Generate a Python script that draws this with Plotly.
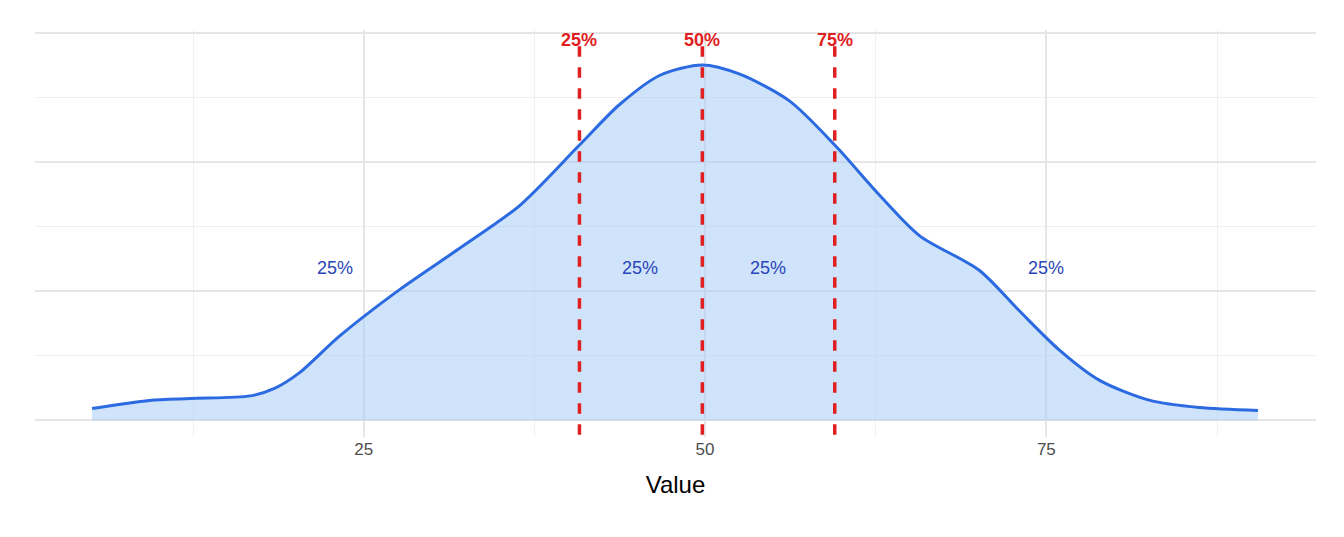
import plotly.graph_objects as go

xs = [5.1, 9.3, 12.3, 16.7, 18.5, 20.3, 23.2, 27.6, 32.0, 36.4, 40.8, 43.7, 46.7, 49.8,
      52.5, 56.2, 59.5, 62.8, 65.7, 70.1, 73.0, 76.0, 78.9, 82.6, 86.2, 90.5]
dens = [0.00093, 0.00155, 0.0017, 0.0019, 0.0025, 0.0037, 0.0065, 0.0101, 0.0133, 0.0166,
        0.0213, 0.0244, 0.0267, 0.0275, 0.0268, 0.0247, 0.0213, 0.0174, 0.0143, 0.0116,
        0.0085, 0.0054, 0.0031, 0.00155, 0.0010, 0.00077]
quantiles = [40.8, 49.8, 59.5]
q_labels = ["25%", "50%", "75%"]
seg_x = [22.9, 45.2, 54.6, 75.0]
seg_labels = ["25%", "25%", "25%", "25%"]
seg_y = 0.0118
x_ticks = [25, 50, 75]

fig = go.Figure()
fig.add_trace(go.Scatter(x=xs, y=dens, mode="lines", fill="tozeroy",
                         fillcolor="rgba(160,200,245,0.5)",
                         line=dict(color="#2b6ae0", width=3, shape="spline", smoothing=0.8),
                         hoverinfo="skip", showlegend=False))
for q, lab in zip(quantiles, q_labels):
    fig.add_shape(type="line", x0=q, x1=q, y0=-0.0011, y1=0.029,
                  line=dict(color="#e02020", width=3.5, dash="dash"))
    fig.add_annotation(x=q, y=0.0294, text=f"<b>{lab}</b>", showarrow=False,
                       font=dict(color="#e02020", size=18, family="Liberation Sans"))
for sx, sl in zip(seg_x, seg_labels):
    fig.add_annotation(x=sx, y=seg_y, text=sl, showarrow=False,
                       font=dict(color="#2a45b8", size=18, family="Liberation Sans"))

fig.update_layout(
    width=1344, height=537, plot_bgcolor="white", paper_bgcolor="white",
    margin=dict(l=27, r=36, t=22, b=108),
    font=dict(family="Liberation Sans"),
    xaxis=dict(range=[0.92, 94.75], tickvals=x_ticks, showgrid=True, gridcolor="#e6e6e6",
               gridwidth=1.5, zeroline=False, showline=False, ticks="",
               minor=dict(tickvals=[12.5, 37.5, 62.5, 87.5], showgrid=True,
                          gridcolor="#f0f0f0", gridwidth=1),
               title=dict(text="Value", font=dict(size=24, color="black"), standoff=18)),
    yaxis=dict(range=[-0.00128, 0.0302], tickvals=[0, 0.01, 0.02, 0.03], showticklabels=False,
               showgrid=True, gridcolor="#e6e6e6", gridwidth=1.5, zeroline=False, ticks="",
               minor=dict(tickvals=[0.005, 0.015, 0.025], showgrid=True,
                          gridcolor="#f0f0f0", gridwidth=1)),
)
fig.update_xaxes(tickfont=dict(size=17, color="#4d4d4d", family="Liberation Sans"))
fig.write_html("out.html")
